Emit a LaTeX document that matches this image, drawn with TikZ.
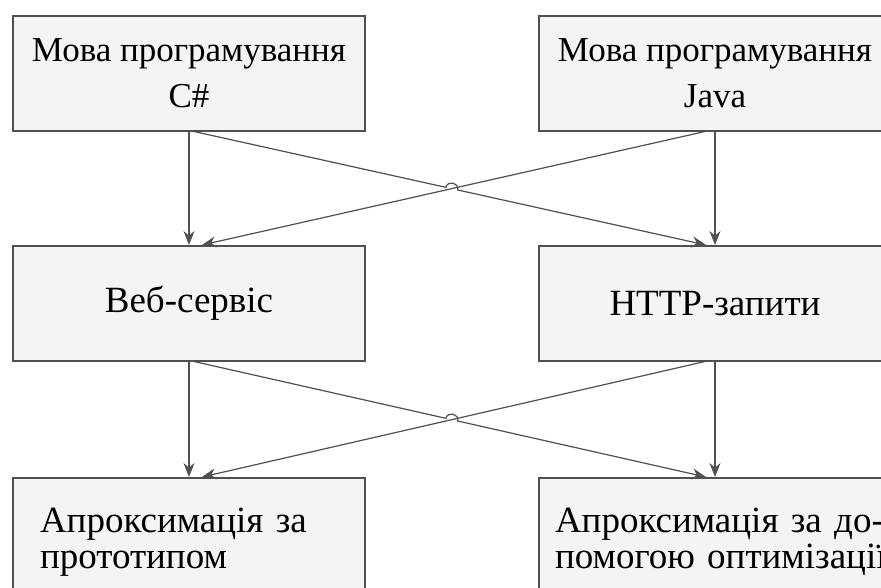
\documentclass[tikz,border=0pt]{standalone}
\usepackage{fontspec}
\setmainfont{Liberation Serif}
\usetikzlibrary{arrows.meta,calc}
\definecolor{linegray}{HTML}{505050}
\definecolor{boxfill}{HTML}{F4F4F4}
\tikzset{
  blockbox/.style={draw=linegray, line width=1.5pt, fill=boxfill, minimum width=352pt,
    minimum height=115pt, anchor=north, text=black, font=\fontsize{37}{46}\selectfont},
  topbox/.style={blockbox, align=center, font=\fontsize{35}{46}\selectfont},
  lowbox/.style={blockbox, minimum height=128pt, align=left, font=\fontsize{37}{36}\selectfont},
  link/.style={draw=linegray, line width=1.2pt, -{Stealth[length=14pt,width=11pt]}},
  hop/.style={bend left=90, looseness=1.6},
}
\begin{document}
\begin{tikzpicture}[x=1pt,y=-1pt]
    % Define dimensions
    \def\leftx{189}
    \def\rightx{715}
    \useasboundingbox (0,0) rectangle (881,587);
    \fill[white] (0,0) rectangle (881,587);
    % Languages
    \node[topbox] (csharp) at (\leftx,15) {Мова програмування\\C\#};
    \node[topbox] (java) at (\rightx,15) {Мова програмування\\Java};
    % Transport
    \node[blockbox] (websrv) at (\leftx,245) {Веб-сервіс};
    \node[blockbox] (httpreq) at (\rightx,245) {HTTP-запити};
    % Approximation
    \node[lowbox, inner xsep=27pt, text width=298pt] (proto) at (\leftx,477)
        {Апроксимація за\\прототипом};
    \node[lowbox, inner xsep=16pt, text width=320pt] (optim) at (\rightx,477)
        {\mbox{Апроксимація за до-}\\\mbox{помогою оптимізації}};
    % Straight arrows
    \draw[link] (csharp.south) -- (websrv.north);
    \draw[link] (java.south) -- (httpreq.north);
    \draw[link] (websrv.south) -- (proto.north);
    \draw[link] (httpreq.south) -- (optim.north);
    % Crossing arrows, upper pair
    \coordinate (ca) at ($(csharp.south)+(5,0)$);
    \coordinate (cb) at ($(httpreq.north)+(-9,0)$);
    \coordinate (ja) at ($(java.south)+(-10,0)$);
    \coordinate (jb) at ($(websrv.north)+(13,0)$);
    \coordinate (cross1) at (intersection of ca--cb and ja--jb);
    \draw[link] (ja) -- (jb);
    \draw[link] (ca) -- ($(cross1)!6pt!(ca)$) to[hop] ($(cross1)!6pt!(cb)$) -- (cb);
    % Crossing arrows, lower pair
    \coordinate (wa) at ($(websrv.south)+(5,0)$);
    \coordinate (wb) at ($(optim.north)+(-9,0)$);
    \coordinate (ha) at ($(httpreq.south)+(-10,0)$);
    \coordinate (hb) at ($(proto.north)+(13,0)$);
    \coordinate (cross2) at (intersection of wa--wb and ha--hb);
    \draw[link] (ha) -- (hb);
    \draw[link] (wa) -- ($(cross2)!6pt!(wa)$) to[hop] ($(cross2)!6pt!(wb)$) -- (wb);
\end{tikzpicture}
\end{document}
